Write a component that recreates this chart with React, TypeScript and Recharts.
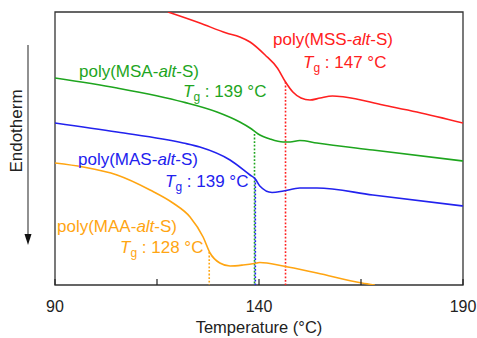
import React from 'react';
import { LineChart, Line, XAxis, YAxis, ReferenceArea } from 'recharts';

// Temperature (°C) and relative heat-flow (arbitrary units)
const mssT = [117.7, 125.5, 132, 135.3, 137.8, 141.5, 144.5, 146.5, 148.3, 150.3, 152.5, 155, 158, 161, 170.4, 178.7, 190];
const mssV = [273, 262, 252, 248, 243, 230, 217, 203, 193, 187, 185, 187, 189, 188, 180, 173, 162];

const msaT = [90, 105.2, 121.4, 129.7, 135.3, 137.8, 139.8, 142.7, 145.9, 147.6, 150, 154.2, 167.9, 190];
const msaV = [207, 197, 183, 173, 163, 157, 151, 146, 143, 143, 144.5, 142, 135, 124];

const masT = [90, 105.2, 121.4, 125.5, 132.9, 137.8, 139.1, 140.2, 143.2, 146, 150, 154.2, 167.9, 190];
const masV = [162, 153, 142, 138, 125, 110, 106, 99, 92.5, 94, 97, 97, 90, 79];

const maaT = [90, 96.9, 105.2, 113.3, 118.9, 123.1, 126.3, 128, 130.4, 132.9, 136.1, 139.5, 140.2, 145.9, 154.2, 165.2, 168.4];
const maaV = [122, 118, 110, 95, 82, 68, 48, 32, 22, 19, 20, 22, 22.5, 19, 12, 2, 0];

// Tg markers: x position, curve level where the dotted line starts
const tgX = [146.5, 138.9, 139.1, 127.8];
const tgTop = [203, 151, 106, 33];

const xTicks = [90, 115, 140, 165, 190];
const xTickLabels = ['90', '', '140', '', '190'];

const colors = ['#ff2020', '#1ea51e', '#2222ee', '#ffa512'];
const names = ['MSS', 'MSA', 'MAS', 'MAA'];
const tgValues = ['147', '139', '139', '128'];

const rows = (t: number[], v: number[]) => t.map((x, i) => ({ t: x, v: v[i] }));
const series = [rows(mssT, mssV), rows(msaT, msaV), rows(masT, masV), rows(maaT, maaV)];
const tgLines = tgX.map((x, i) => [
  { t: x, v: tgTop[i] },
  { t: x, v: 0 },
]);

const FONT = 'Liberation Sans, Arial, Helvetica, sans-serif';

const Tick = (props: any) => {
  const { x, y, payload } = props;
  const i = xTicks.indexOf(payload.value);
  return (
    <g>
      <line x1={x} x2={x} y1={y} y2={y - 6} stroke="#222" strokeWidth={1.2} />
      <text x={x} y={y + 27} textAnchor="middle" fontSize={16} fill="#222" fontFamily={FONT}>
        {xTickLabels[i]}
      </text>
    </g>
  );
};

const PolyLabel = ({ x, y, color, name }: any) => (
  <text x={x} y={y} fill={color} fontSize={17} fontFamily={FONT}>
    poly({name}-<tspan fontStyle="italic">alt</tspan>-S)
  </text>
);

const TgLabel = ({ x, y, color, val }: any) => (
  <text x={x} y={y} fill={color} fontSize={17} fontFamily={FONT}>
    <tspan fontStyle="italic">T</tspan>
    <tspan dy={4} fontSize={12}>g</tspan>
    <tspan dy={-4}>{` : ${val} °C`}</tspan>
  </text>
);

const polyPos = [
  [273, 45],
  [79, 77],
  [78, 165],
  [57, 232],
];
const tgPos = [
  [303, 68],
  [183, 97],
  [165, 187],
  [120, 253],
];

export default function App() {
  return (
    <div style={{ position: 'absolute', left: 0, top: 0, width: 477, height: 338, background: '#fff' }}>
      <LineChart
        width={477}
        height={338}
        margin={{ top: 12, right: 14, bottom: 23, left: 55 }}
      >
        <XAxis
          type="number"
          dataKey="t"
          domain={[90, 190]}
          ticks={xTicks}
          allowDataOverflow
          height={30}
          tickSize={0}
          tickMargin={0}
          tickLine={false}
          axisLine={false}
          tick={<Tick />}
          interval={0}
        />
        <YAxis type="number" dataKey="v" domain={[0, 273]} hide allowDataOverflow />
        {tgLines.map((d, i) => (
          <Line
            key={'tg' + i}
            data={d}
            dataKey="v"
            type="linear"
            stroke={colors[i]}
            strokeWidth={1.6}
            strokeDasharray="1.8 1.8"
            dot={false}
            isAnimationActive={false}
          />
        ))}
        {series.map((d, i) => (
          <Line
            key={names[i]}
            data={d}
            dataKey="v"
            type="monotone"
            stroke={colors[i]}
            strokeWidth={1.6}
            dot={false}
            isAnimationActive={false}
          />
        ))}
        <ReferenceArea x1={90} x2={190} y1={0} y2={273} fill="none" stroke="#333" strokeWidth={1.3} />
      </LineChart>
      <svg
        width={477}
        height={338}
        style={{ position: 'absolute', left: 0, top: 0, pointerEvents: 'none' }}
      >
        {names.map((n, i) => (
          <PolyLabel key={'p' + n} x={polyPos[i][0]} y={polyPos[i][1]} color={colors[i]} name={n} />
        ))}
        {names.map((n, i) => (
          <TgLabel key={'t' + n} x={tgPos[i][0]} y={tgPos[i][1]} color={colors[i]} val={tgValues[i]} />
        ))}
        <text x={259} y={333} textAnchor="middle" fontSize={16.5} fill="#222" fontFamily={FONT}>
          Temperature (°C)
        </text>
        <text
          x={22}
          y={131}
          textAnchor="middle"
          fontSize={17}
          fill="#222"
          fontFamily={FONT}
          transform="rotate(-90 22 131)"
        >
          Endotherm
        </text>
        <line x1={28} x2={28} y1={45} y2={236} stroke="#555" strokeWidth={1.3} />
        <polygon points="24.5,234 31.5,234 28,245" fill="#111" />
      </svg>
    </div>
  );
}
